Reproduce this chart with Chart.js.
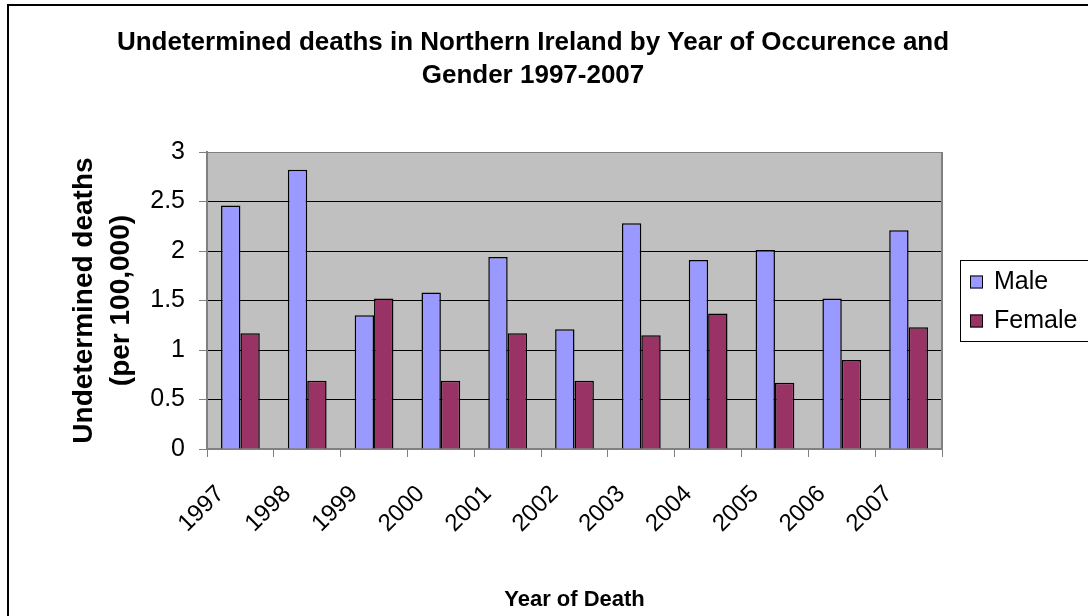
<!DOCTYPE html>
<html>
<head>
<meta charset="utf-8">
<title>Undetermined deaths in Northern Ireland</title>
<script src="https://cdn.jsdelivr.net/npm/chart.js@4"></script>
<style>
  body { margin: 0; background: #fff; }
  canvas { display: block; }
</style>
</head>
<body>
<canvas id="chart" width="1088" height="616"></canvas>
<script>
// data
const years = ['1997', '1998', '1999', '2000', '2001', '2002', '2003', '2004', '2005', '2006', '2007'];
const maleRates = [2.46, 2.82, 1.35, 1.58, 1.94, 1.21, 2.28, 1.91, 2.01, 1.52, 2.21];
const femaleRates = [1.17, 0.69, 1.52, 0.69, 1.17, 0.69, 1.15, 1.37, 0.67, 0.90, 1.23];
const yTickValues = [0, 0.5, 1, 1.5, 2, 2.5, 3];
const yTickLabels = ['0', '0.5', '1', '1.5', '2', '2.5', '3'];

const FONT = "'Liberation Sans', Arial, sans-serif";
Chart.defaults.font.family = FONT;
Chart.defaults.color = '#000';

// grey plot background, right border, outer frame and the boxed legend
const excelLook = {
  id: 'excelLook',
  beforeDraw(chart) {
    const { ctx, chartArea: a } = chart;
    ctx.save();
    ctx.fillStyle = '#fff';
    ctx.fillRect(0, 0, chart.width, chart.height);
    ctx.fillStyle = '#C0C0C0';
    ctx.fillRect(a.left, a.top, a.right - a.left, a.bottom - a.top);
    ctx.restore();
  },
  beforeDatasetsDraw(chart) {
    const { ctx, chartArea: a } = chart;
    ctx.save();
    ctx.strokeStyle = '#808080';
    ctx.lineWidth = 2;
    ctx.beginPath();
    ctx.moveTo(a.right, a.top);
    ctx.lineTo(a.right, a.bottom);
    ctx.stroke();
    ctx.restore();
  },
  afterDraw(chart) {
    const ctx = chart.ctx;
    ctx.save();
    // outer frame
    ctx.strokeStyle = '#000';
    ctx.lineWidth = 2;
    ctx.beginPath();
    ctx.moveTo(8, chart.height + 2);
    ctx.lineTo(8, 5);
    ctx.lineTo(chart.width + 2, 5);
    ctx.stroke();

    // legend
    ctx.lineWidth = 1;
    ctx.strokeRect(960.5, 260.5, 140, 81);
    ctx.font = '25px ' + FONT;
    ctx.textBaseline = 'middle';
    ctx.textAlign = 'left';
    chart.data.datasets.forEach((ds, i) => {
      const cy = 282 + i * 39;
      ctx.fillStyle = ds.backgroundColor;
      ctx.fillRect(970, cy - 6.5, 13, 13);
      ctx.strokeStyle = '#000';
      ctx.strokeRect(970.5, cy - 6, 12, 12);
      ctx.fillStyle = '#000';
      ctx.fillText(ds.label, 994, cy);
    });
    ctx.restore();
  }
};

new Chart(document.getElementById('chart'), {
  type: 'bar',
  data: {
    labels: years,
    datasets: [
      {
        label: 'Male',
        data: maleRates,
        backgroundColor: '#9999FF',
        borderColor: '#000',
        borderWidth: 1.5,
        categoryPercentage: 0.58,
        barPercentage: 1
      },
      {
        label: 'Female',
        data: femaleRates,
        backgroundColor: '#993366',
        borderColor: '#000',
        borderWidth: 1.5,
        categoryPercentage: 0.58,
        barPercentage: 1
      }
    ]
  },
  options: {
    responsive: false,
    devicePixelRatio: 1,
    animation: false,
    layout: { padding: { left: 0, right: 22, top: 0, bottom: 0 } },
    plugins: {
      legend: { display: false },
      tooltip: { enabled: false },
      title: {
        display: true,
        text: ['Undetermined deaths in Northern Ireland by Year of Occurence and', 'Gender 1997-2007'],
        font: { size: 26, weight: 'bold', lineHeight: 1.27 },
        color: '#000',
        padding: { top: 26, bottom: 60 }
      }
    },
    scales: {
      x: {
        offset: true,
        grid: {
          offset: true,
          drawOnChartArea: false,
          tickLength: 8,
          tickColor: '#808080'
        },
        border: { color: '#808080', width: 2 },
        ticks: {
          font: { size: 24 },
          color: '#000',
          minRotation: 45,
          maxRotation: 45,
          padding: 23,
          labelOffset: -20
        },
        title: {
          display: true,
          text: 'Year of Death',
          font: { size: 22, weight: 'bold' },
          color: '#000',
          padding: { top: 0, bottom: 3 }
        },
        afterFit: s => { s.height = 167; }
      },
      y: {
        min: 0,
        max: 3,
        afterBuildTicks: s => { s.ticks = yTickValues.map(v => ({ value: v })); },
        grid: {
          color: ctx => (ctx.tick && ctx.tick.value === 3 ? '#808080' : '#000'),
          tickColor: '#808080',
          tickLength: 8,
          lineWidth: 1
        },
        border: { color: '#808080', width: 2 },
        ticks: {
          font: { size: 25 },
          color: '#000',
          padding: 14,
          callback: (v, i) => yTickLabels[i]
        },
        title: {
          display: true,
          text: ['Undetermined deaths', '(per 100,000)'],
          font: { size: 28, weight: 'bold', lineHeight: 1.35 },
          color: '#000',
          padding: { top: 65, bottom: 0 }
        },
        afterFit: s => { s.width = 207; }
      },
      spacer: {
        position: 'right',
        display: true,
        grid: { display: false },
        border: { display: false },
        ticks: { display: false },
        afterFit: s => { s.width = 124; }
      }
    }
  },
  plugins: [excelLook]
});
</script>
</body>
</html>
